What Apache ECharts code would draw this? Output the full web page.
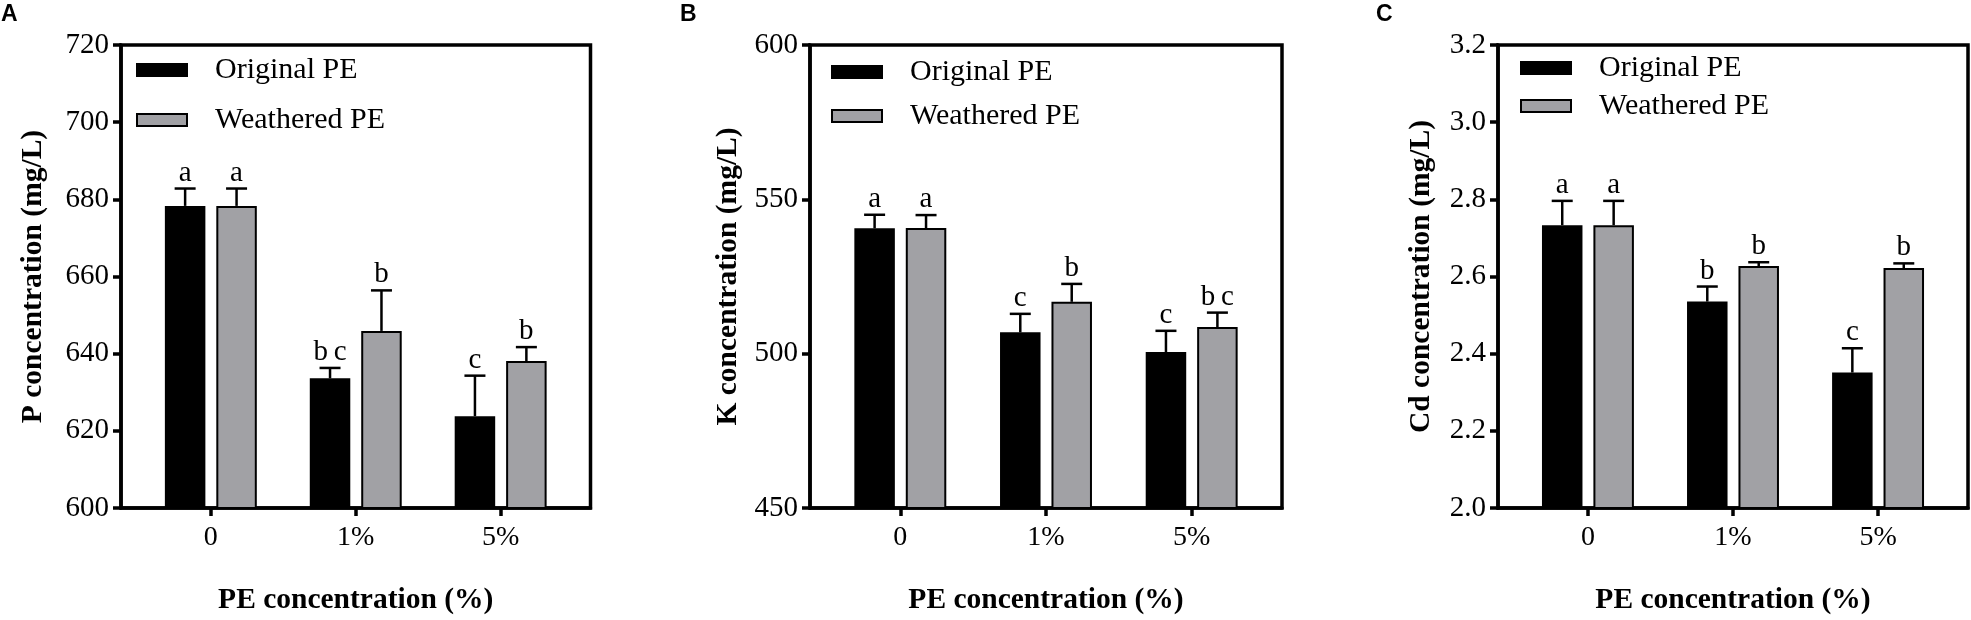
<!DOCTYPE html>
<html>
<head>
<meta charset="utf-8">
<script src="https://cdn.jsdelivr.net/npm/echarts@6/dist/echarts.min.js"></script>
<style>
  html, body { margin: 0; padding: 0; background: #fff; }
  #chart { width: 1971px; height: 620px; }
</style>
</head>
<body>
<div id="chart"></div>
<script>
// categories on x
var categories = ['0', '1%', '5%']
var seriesNames = ['Original PE', 'Weathered PE']

// A: P concentration
var pOriginal = [678.3, 633.6, 623.8]
var pOriginalErr = [4.5, 2.7, 10.5]
var pOriginalLetters = ['a', 'bc', 'c']
var pWeathered = [678.3, 645.9, 638.1]
var pWeatheredErr = [4.5, 10.5, 3.6]
var pWeatheredLetters = ['a', 'b', 'b']

// B: K concentration
var kOriginal = [540.6, 506.9, 500.5]
var kOriginalErr = [4.4, 6.0, 6.9]
var kOriginalLetters = ['a', 'c', 'c']
var kWeathered = [540.7, 516.8, 508.6]
var kWeatheredErr = [4.2, 5.8, 4.7]
var kWeatheredLetters = ['a', 'b', 'bc']

// C: Cd concentration
var cdOriginal = [2.733, 2.535, 2.351]
var cdOriginalErr = [0.063, 0.039, 0.063]
var cdOriginalLetters = ['a', 'b', 'c']
var cdWeathered = [2.733, 2.627, 2.622]
var cdWeatheredErr = [0.063, 0.010, 0.012]
var cdWeatheredLetters = ['a', 'b', 'b']

// y axis ticks
var pTicks = { min: 600, max: 720, interval: 20 }
var kTicks = { min: 450, max: 600, interval: 50 }
var cdTicks = { min: 2.0, max: 3.2, interval: 0.2 }

var SERIF = '"Liberation Serif", "Times New Roman", serif'
var BAR_W = 40.5
var BAR_GAP = 0.27
var OFFSET = BAR_W * (1 + BAR_GAP) / 2
var colors = ['#000000', '#a1a1a5']

var panels = [
  { letter: 'A', left: 121, width: 469.5, yName: 'P concentration (mg/L)', nameGap: 73, ticks: pTicks, fmt: null,
    values: [pOriginal, pWeathered], errs: [pOriginalErr, pWeatheredErr], letters: [pOriginalLetters, pWeatheredLetters],
    legend: { left: 136, top: 55, gap: 20 }, tag: 1 },
  { letter: 'B', left: 810, width: 472, yName: 'K concentration (mg/L)', nameGap: 67, ticks: kTicks, fmt: null,
    values: [kOriginal, kWeathered], errs: [kOriginalErr, kWeatheredErr], letters: [kOriginalLetters, kWeatheredLetters],
    legend: { left: 831, top: 57, gap: 14 }, tag: 680 },
  { letter: 'C', left: 1498, width: 470, yName: 'Cd concentration (mg/L)', nameGap: 62, ticks: cdTicks, fmt: function (v) { return v.toFixed(1) },
    values: [cdOriginal, cdWeathered], errs: [cdOriginalErr, cdWeatheredErr], letters: [cdOriginalLetters, cdWeatheredLetters],
    legend: { left: 1520, top: 53, gap: 8 }, tag: 1376 }
]

// upper error whisker + significance letter
function errorRenderer (offset, letters) {
  return function (params, api) {
    var x = api.value(0)
    var v = api.value(1)
    var e = api.value(2)
    var base = api.coord([x, v])
    var top = api.coord([x, v + e])
    var cx = base[0] + offset
    // letters are set a little apart, like in the figure
    var txt = letters[params.dataIndex].split('').join('\u2009')
    return {
      type: 'group',
      children: [
        { type: 'line', shape: { x1: cx, y1: base[1], x2: cx, y2: top[1] }, style: { stroke: '#000', lineWidth: 2.5 } },
        { type: 'line', shape: { x1: cx - 10.5, y1: top[1], x2: cx + 10.5, y2: top[1] }, style: { stroke: '#000', lineWidth: 2.5 } },
        { type: 'text', style: { text: txt, x: cx, y: top[1] - 1, align: 'center', verticalAlign: 'bottom', font: '29px ' + SERIF, fill: '#000' } }
      ]
    }
  }
}

var option = { animation: false, title: [], grid: [], xAxis: [], yAxis: [], legend: [], series: [] }

panels.forEach(function (p, i) {
  option.title.push({
    text: p.letter, left: p.tag, top: 3, padding: 0,
    textStyle: { fontFamily: '"Liberation Sans", Arial, sans-serif', fontWeight: 'bold', fontSize: 23, color: '#000' }
  })
  option.grid.push({
    left: p.left, top: 45, width: p.width, height: 470,
    show: true, borderColor: '#000', borderWidth: 3.5, containLabel: false
  })
  option.xAxis.push({
    type: 'value', gridIndex: i, min: -0.62, max: 2.62,
    name: 'PE concentration (%)', nameLocation: 'middle', nameGap: 77,
    nameTextStyle: { fontFamily: SERIF, fontWeight: 'bold', fontSize: 29.5, color: '#000' },
    splitLine: { show: false },
    axisLine: { show: true, lineStyle: { color: '#000', width: 3.5 } },
    axisTick: { show: true, customValues: [0, 1, 2], length: 8, lineStyle: { color: '#000', width: 3.5 } },
    axisLabel: {
      customValues: [0, 1, 2], margin: 16, fontFamily: SERIF, fontSize: 28, color: '#000',
      formatter: function (v) { return categories[Math.round(v)] }
    }
  })
  option.yAxis.push({
    type: 'value', gridIndex: i, min: p.ticks.min, max: p.ticks.max, interval: p.ticks.interval,
    name: p.yName, nameLocation: 'middle', nameGap: p.nameGap,
    nameTextStyle: { fontFamily: SERIF, fontWeight: 'bold', fontSize: 29.5, color: '#000' },
    splitLine: { show: false },
    axisLine: { show: true, onZero: false, lineStyle: { color: '#000', width: 3.5 } },
    axisTick: { show: true, length: 8, lineStyle: { color: '#000', width: 3.5 } },
    axisLabel: { margin: 12, fontFamily: SERIF, fontSize: 29, color: '#000', formatter: p.fmt || '{value}' }
  })
  option.legend.push({
    data: seriesNames, orient: 'vertical', left: p.legend.left, top: p.legend.top,
    padding: 0, itemGap: p.legend.gap, itemWidth: 50, itemHeight: 12, icon: 'rect',
    selectedMode: false,
    textStyle: { fontFamily: SERIF, fontSize: 30, lineHeight: 28, color: '#000', padding: [0, 0, 0, 23] }
  })
  seriesNames.forEach(function (name, s) {
    option.series.push({
      type: 'bar', name: name, xAxisIndex: i, yAxisIndex: i,
      barWidth: BAR_W, barGap: (BAR_GAP * 100) + '%',
      itemStyle: { color: colors[s], borderColor: '#000', borderWidth: 2 },
      data: p.values[s].map(function (v, k) { return [k, v] })
    })
  })
  seriesNames.forEach(function (name, s) {
    option.series.push({
      type: 'custom', xAxisIndex: i, yAxisIndex: i, z: 5, clip: false,
      renderItem: errorRenderer(s === 0 ? -OFFSET : OFFSET, p.letters[s]),
      data: p.values[s].map(function (v, k) { return [k, v, p.errs[s][k]] })
    })
  })
})

var myChart = echarts.init(document.getElementById('chart'))
myChart.setOption(option)
</script>
</body>
</html>
